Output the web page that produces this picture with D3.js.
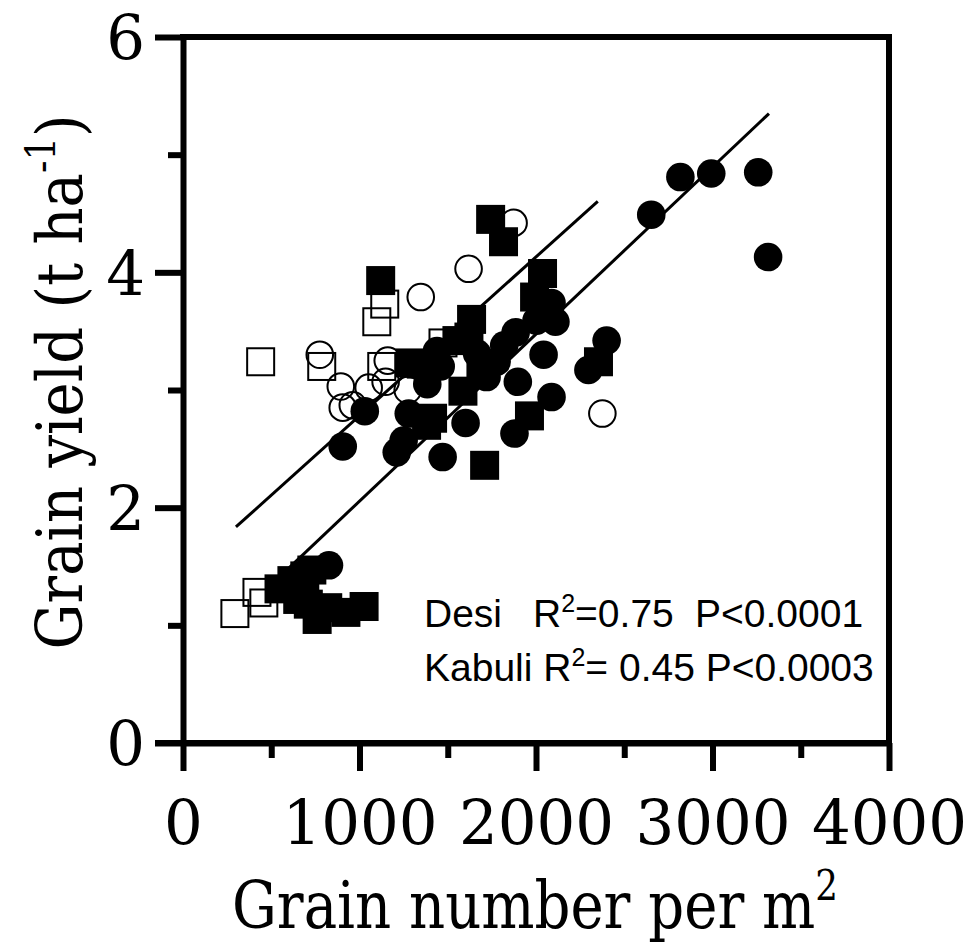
<!DOCTYPE html>
<html>
<head>
<meta charset="utf-8">
<script src="https://cdn.jsdelivr.net/npm/d3@7"></script>
<style>
  body { margin: 0; background: #fff; }
</style>
</head>
<body>
<div id="chart"></div>
<script>
// Desi (filled) and Kabuli (open) - grain number vs grain yield
const desiCircleX = [1030, 905, 1211, 1471, 1601, 1878, 2088, 1897, 2043, 2297, 2400, 2088, 2110, 2003, 1885, 1439, 1384, 1279, 1250, 1666, 1720, 1777, 2653, 2818, 2993, 3259, 3315, 827, 1820, 1460, 650];
const desiCircleY = [2.82, 2.52, 2.47, 2.43, 2.72, 2.63, 2.94, 3.07, 3.30, 3.17, 3.42, 3.74, 3.58, 3.59, 3.49, 3.33, 3.05, 2.80, 2.57, 3.31, 3.11, 3.24, 4.49, 4.81, 4.84, 4.85, 4.13, 1.51, 3.38, 3.20, 1.25];

const desiSquareX = [1120, 1743, 1816, 2037, 1992, 1635, 1552, 1287, 1586, 1688, 1414, 1709, 1963, 2354, 1620, 1350, 1380, 544, 617, 690, 730, 650, 760, 710, 923, 1026, 820];
const desiSquareY = [3.93, 4.45, 4.26, 3.99, 3.79, 3.60, 3.42, 3.23, 2.99, 3.16, 2.76, 2.36, 2.78, 3.24, 3.45, 3.22, 2.70, 1.31, 1.38, 1.42, 1.47, 1.22, 1.05, 1.18, 1.11, 1.16, 1.15];

const kabuliCircleX = [1618, 1873, 1347, 775, 1160, 894, 1052, 1148, 905, 962, 1273, 2376];
const kabuliCircleY = [4.03, 4.42, 3.79, 3.30, 3.25, 3.03, 3.02, 3.07, 2.85, 2.87, 3.00, 2.80];

const kabuliSquareX = [440, 1143, 1098, 786, 1126, 1473, 294, 419, 458];
const kabuliSquareY = [3.24, 3.73, 3.58, 3.20, 3.20, 3.40, 1.10, 1.28, 1.19];

// regression lines
const fitNames = ["Desi", "Kabuli"];
const fitX0 = [520, 300];
const fitX1 = [3320, 2350];
const fitSlope = [0.00142, 0.00135];
const fitIntercept = [0.635, 1.431];

const xMajor = [0, 1000, 2000, 3000, 4000];
const xMinor = [500, 1500, 2500, 3500];
const yMajor = [0, 2, 4, 6];
const yMinor = [1, 3, 5];

const width = 964;
const height = 944;
const margin = { top: 37, right: 75, bottom: 201, left: 183 };

const svg = d3.select("#chart")
  .append("svg")
  .attr("width", width)
  .attr("height", height);

const x = d3.scaleLinear().domain([0, 4000]).range([margin.left, width - margin.right]);
const y = d3.scaleLinear().domain([0, 6]).range([height - margin.bottom, margin.top]);

const serif = "'DejaVu Serif', serif";

// minor ticks first
svg.append("g")
  .attr("transform", `translate(0,${y(0)})`)
  .call(d3.axisBottom(x).tickValues(xMinor).tickSize(15).tickSizeOuter(0).tickFormat(""))
  .call(g => g.select(".domain").remove());
svg.append("g")
  .attr("transform", `translate(${x(0)},0)`)
  .call(d3.axisLeft(y).tickValues(yMinor).tickSize(15).tickSizeOuter(0).tickFormat(""))
  .call(g => g.select(".domain").remove());

const xAxis = svg.append("g")
  .attr("transform", `translate(0,${y(0)})`)
  .call(d3.axisBottom(x).tickValues(xMajor).tickSize(28).tickSizeOuter(0).tickFormat(d3.format("d")));
xAxis.selectAll("text")
  .attr("y", 101)
  .attr("dy", 0)
  .style("font-family", serif)
  .style("font-size", "61px")
  .attr("fill", "#000");

const yAxis = svg.append("g")
  .attr("transform", `translate(${x(0)},0)`)
  .call(d3.axisLeft(y).tickValues(yMajor).tickSize(28).tickSizeOuter(0).tickPadding(10).tickFormat(d3.format("d")));
yAxis.selectAll("text")
  .attr("dy", "0.36em")
  .style("font-family", serif)
  .style("font-size", "61px")
  .attr("fill", "#000");

svg.selectAll(".tick line").attr("stroke", "#000").attr("stroke-width", 6);
svg.selectAll(".domain").attr("stroke", "#000").attr("stroke-width", 6);

// frame top/right
svg.append("path")
  .attr("d", `M${x(0)},${y(6)}H${x(4000)}V${y(0)}`)
  .attr("fill", "none")
  .attr("stroke", "#000")
  .attr("stroke-width", 6)
  .attr("stroke-linecap", "square");

// the x axis runs over to the left tick
svg.append("line")
  .attr("x1", x(0) - 28).attr("x2", x(4000) + 3)
  .attr("y1", y(0)).attr("y2", y(0))
  .attr("stroke", "#000").attr("stroke-width", 6);

// regression lines
const fits = fitNames.map((n, i) => ({ n, x0: fitX0[i], x1: fitX1[i], m: fitSlope[i], b: fitIntercept[i] }));
svg.selectAll(".fit")
  .data(fits)
  .enter()
  .append("line")
  .attr("class", "fit")
  .attr("x1", d => x(d.x0))
  .attr("y1", d => y(d.b + d.m * d.x0))
  .attr("x2", d => x(d.x1))
  .attr("y2", d => y(d.b + d.m * d.x1))
  .attr("stroke", "#000")
  .attr("stroke-width", 3);

const r = 14.3;
const side = 29;

function pts(xs, ys) {
  return xs.map((v, i) => ({ x: v, y: ys[i] }));
}

// open markers (Kabuli)
svg.append("g").selectAll("circle")
  .data(pts(kabuliCircleX, kabuliCircleY))
  .enter()
  .append("circle")
  .attr("cx", d => x(d.x))
  .attr("cy", d => y(d.y))
  .attr("r", r - 1)
  .attr("fill", "none")
  .attr("stroke", "#000")
  .attr("stroke-width", 2);

svg.append("g").selectAll("rect")
  .data(pts(kabuliSquareX, kabuliSquareY))
  .enter()
  .append("rect")
  .attr("x", d => x(d.x) - side / 2 + 1)
  .attr("y", d => y(d.y) - side / 2 + 1)
  .attr("width", side - 2)
  .attr("height", side - 2)
  .attr("fill", "none")
  .attr("stroke", "#000")
  .attr("stroke-width", 2);

// filled markers (Desi)
svg.append("g").selectAll("rect")
  .data(pts(desiSquareX, desiSquareY))
  .enter()
  .append("rect")
  .attr("x", d => x(d.x) - side / 2)
  .attr("y", d => y(d.y) - side / 2)
  .attr("width", side)
  .attr("height", side)
  .attr("fill", "#000");

svg.append("g").selectAll("circle")
  .data(pts(desiCircleX, desiCircleY))
  .enter()
  .append("circle")
  .attr("cx", d => x(d.x))
  .attr("cy", d => y(d.y))
  .attr("r", r)
  .attr("fill", "#000");

// stats text
const sans = "'Liberation Sans', Arial, sans-serif";
const t1 = svg.append("text")
  .attr("y", 627)
  .style("font-family", sans)
  .style("font-size", "39px")
  .attr("fill", "#000");
t1.append("tspan").attr("x", 424).text("Desi");
t1.append("tspan").attr("x", 533).text("R");
t1.append("tspan").attr("dy", -15).style("font-size", "25px").text("2");
t1.append("tspan").attr("dy", 15).text("=0.75");
t1.append("tspan").attr("x", 695).text("P<0.0001");

const t2 = svg.append("text")
  .attr("x", 424)
  .attr("y", 681)
  .style("font-family", sans)
  .style("font-size", "39px")
  .attr("fill", "#000");
t2.append("tspan").text("Kabuli R");
t2.append("tspan").attr("dy", -15).style("font-size", "25px").text("2");
t2.append("tspan").attr("dy", 15).text("= 0.45 P<0.0003");

// axis titles
const xt = svg.append("text")
  .attr("x", 535)
  .attr("y", 928)
  .attr("text-anchor", "middle")
  .attr("textLength", 606)
  .attr("lengthAdjust", "spacingAndGlyphs")
  .style("font-family", serif)
  .style("font-size", "66px")
  .attr("fill", "#000");
xt.append("tspan").text("Grain number per m");
xt.append("tspan").attr("dy", -28).style("font-size", "42px").text("2");

const yt = svg.append("text")
  .attr("transform", `translate(82,${382}) rotate(-90)`)
  .attr("text-anchor", "middle")
  .attr("textLength", 535)
  .attr("lengthAdjust", "spacingAndGlyphs")
  .style("font-family", serif)
  .style("font-size", "64px")
  .attr("fill", "#000");
yt.append("tspan").text("Grain yield (t ha");
yt.append("tspan").attr("dy", -27).style("font-size", "41px").text("-1");
yt.append("tspan").attr("dy", 27).text(")");
</script>
</body>
</html>
